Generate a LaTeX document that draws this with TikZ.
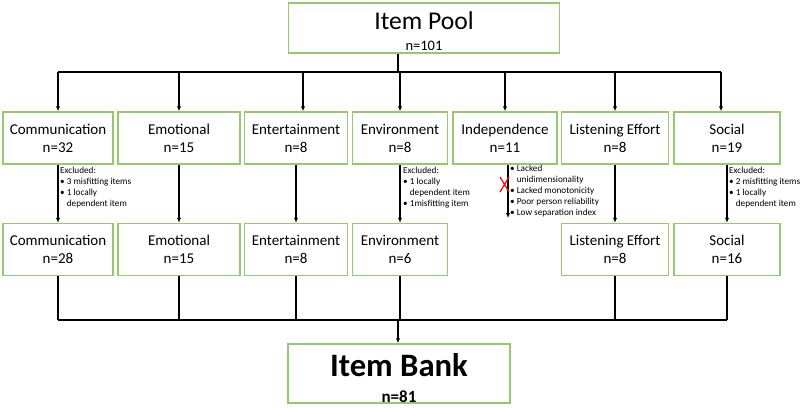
\documentclass[tikz,border=0pt]{standalone}
\usepackage{fontspec}
\setmainfont{Carlito}
\usetikzlibrary{arrows.meta}
\definecolor{boxgreen}{RGB}{150,200,110}
\def\itm{\textbullet\ }

\begin{document}
\begin{tikzpicture}[x=1pt, y=-1pt,
    catbox/.style={draw=boxgreen, line width=1.5pt, align=center, inner sep=0pt,
      minimum height=52pt, font=\fontsize{15}{18}\selectfont},
    note/.style={anchor=north west, align=left, inner sep=0pt,
      font=\fontsize{9.2}{11}\selectfont},
    link/.style={line width=1.5pt},
    arr/.style={link, -{Latex[length=5pt,width=4.5pt]}}]
  \useasboundingbox (0,0) rectangle (800,407);
  %
  \node[catbox, minimum width=271pt, minimum height=50pt] (pool) at (424,28)
    {{\fontsize{25.6}{26}\selectfont\rule{0pt}{25pt}Item Pool}\\[3pt]{\fontsize{14.5}{15}\selectfont n=101}};   % top box
  %
  % first row
  \node[catbox, minimum width=110pt] (comm1) at (58,138)  {Communication\\n=32};
  \node[catbox, minimum width=122pt] (emo1)  at (179,138) {Emotional\\n=15};
  \node[catbox, minimum width=103pt] (ent1)  at (296,138) {Entertainment\\n=8};
  \node[catbox, minimum width=95pt]  (env1)  at (400,138) {Environment\\n=8};
  \node[catbox, minimum width=104pt] (ind1)  at (505,138) {Independence\\n=11};
  \node[catbox, minimum width=107pt] (lis1)  at (615,138) {Listening Effort\\n=8};
  \node[catbox, minimum width=106pt] (soc1)  at (727,138) {Social\\n=19};
  %
  % second row
  \node[catbox, minimum width=110pt] (comm2) at (58,249.5)  {Communication\\n=28};
  \node[catbox, minimum width=122pt] (emo2)  at (179,249.5) {Emotional\\n=15};
  \node[catbox, minimum width=103pt] (ent2)  at (296,249.5) {Entertainment\\n=8};
  \node[catbox, minimum width=95pt]  (env2)  at (400,249.5) {Environment\\n=6};
  \node[catbox, minimum width=107pt] (lis2)  at (615,249.5) {Listening Effort\\n=8};
  \node[catbox, minimum width=106pt] (soc2)  at (727,249.5) {Social\\n=16};
  %
  \node[catbox, minimum width=222pt, minimum height=59pt, font=\bfseries] (bank) at (399,373.5)
    {{\fontsize{32.7}{33}\selectfont\rule{0pt}{32pt}Item Bank}\\[14pt]{\fontsize{17}{18}\selectfont n=81}};   % bottom box
  %
  % split from the pool
  \coordinate (topbus) at (398,72);
  \draw[link] (pool.south -| topbus) -- (topbus);
  \draw[link] (comm1.north |- topbus) -- ([xshift=-6pt]soc1.north |- topbus);
  \foreach \n in {comm1,emo1,env1,ind1,lis1}
    \draw[arr] (\n.north |- topbus) -- (\n.north);
  \draw[arr] ([xshift=7pt]ent1.north |- topbus) -- ([xshift=7pt]ent1.north);
  \draw[arr] ([xshift=-6pt]soc1.north |- topbus) -- ([xshift=-6pt]soc1.north);
  %
  % row to row
  \foreach \n in {comm,emo,ent,env,lis,soc}
    \draw[arr] (\n1.south) -- (\n2.north);
  \coordinate (indend) at (508,218);
  \draw[arr] ([xshift=3pt]ind1.south) -- ([xshift=3pt]ind1.south |- indend);
  \draw[red, line width=1.2pt] (500,177) -- (509,192) (509,177) -- (500,192);
  %
  % excluded items
  \node[note] (commx) at (60,167) {Excluded:\\\itm 3 misfitting items\\\itm 1 locally\\\phantom{\itm}dependent item};
  \node[note] (envx) at (403,167) {Excluded:\\\itm 1 locally\\\phantom{\itm}dependent item\\\itm 1misfitting item};
  \node[note] (indx) at (510,165) {\itm Lacked\\\phantom{\itm}unidimensionality\\\itm Lacked monotonicity\\\itm Poor person reliability\\\itm Low separation index};
  \node[note] (socx) at (729,167) {Excluded:\\\itm 2 misfitting items\\\itm 1 locally\\\phantom{\itm}dependent item};
  %
  % merge into the bank
  \coordinate (botbus) at (398,320);
  \foreach \n in {comm2,emo2,ent2,env2,lis2,soc2}
    \draw[link] (\n.south) -- (\n.south |- botbus);
  \draw[link] (comm2.south |- botbus) -- (soc2.south |- botbus);
  \draw[arr] (botbus) -- (botbus |- bank.north);
\end{tikzpicture}
\end{document}
